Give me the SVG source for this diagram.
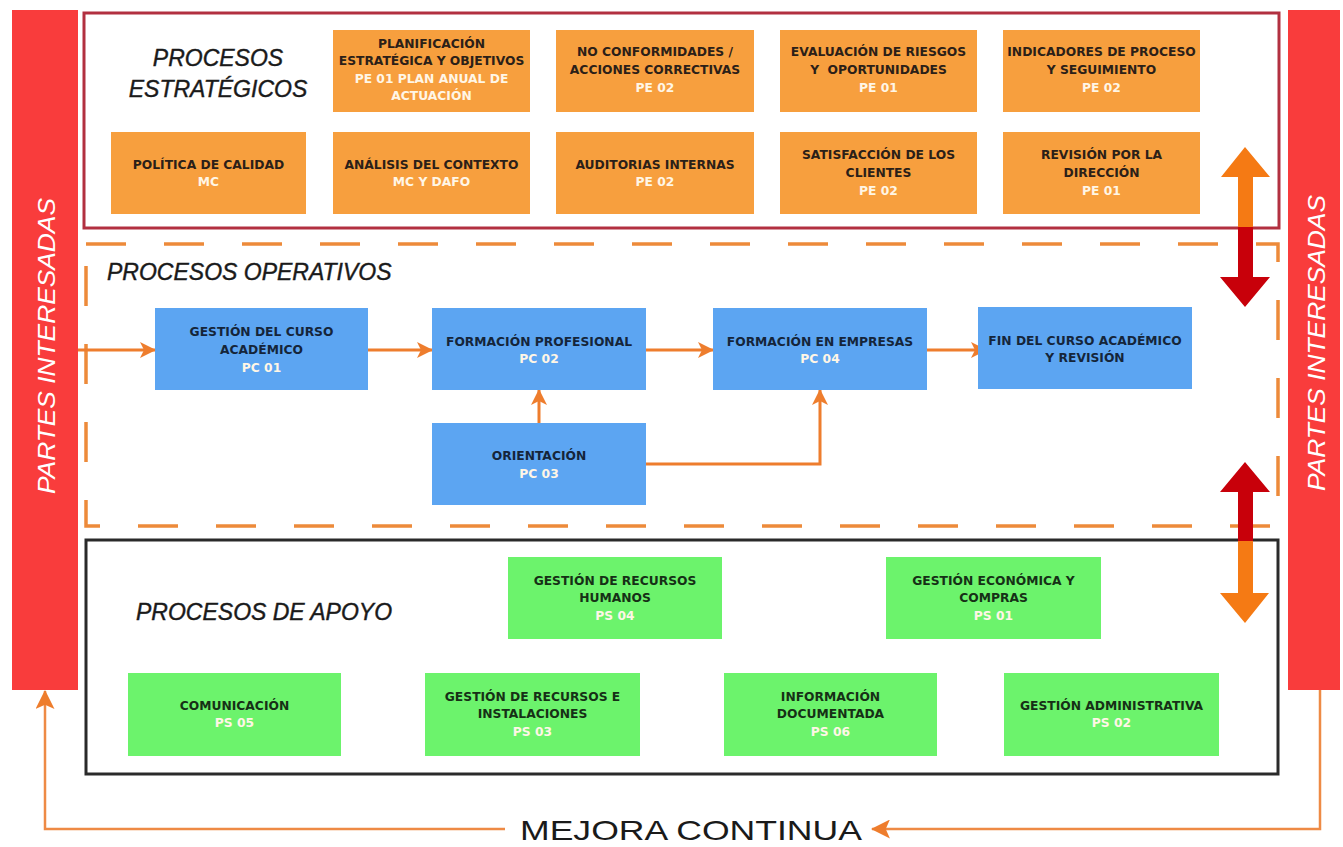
<svg xmlns="http://www.w3.org/2000/svg" width="1343" height="847" viewBox="0 0 1343 847">
<defs>
<style>
.bg{fill:#ffffff}
.bar{fill:#F93C3C}
.bartxt{font-family:"Liberation Sans",Arial,sans-serif;font-style:italic;font-size:24px;fill:#ffffff;text-anchor:middle}
.head{font-family:"Liberation Sans",Arial,sans-serif;font-style:italic;font-size:23px;fill:#1a1a1a;stroke:#1a1a1a;stroke-width:0.4}
.mejora{font-family:"Liberation Sans",Arial,sans-serif;font-size:28px;fill:#1a1a1a}
.ob{fill:#F79F3E}
.bb{fill:#5CA5F2}
.gb{fill:#6CF36C}
.t{font-family:"DejaVu Sans","Liberation Sans",sans-serif;font-weight:bold;font-size:12.3px;text-anchor:middle}
.to{fill:#2b2018}
.tb{fill:#15253a}
.tg{fill:#163016}
.tc{fill:#FFF6E6}
.conn{fill:none;stroke:#EE7D2D;stroke-width:3}
.loop{fill:none;stroke:#EE8A45;stroke-width:2.5}
</style>
<marker id="arr" viewBox="0 0 16 16" refX="15" refY="8" markerWidth="16" markerHeight="16" markerUnits="userSpaceOnUse" orient="auto">
<path d="M0,0 L16,8 L0,16 L4,8 z" fill="#EE7D2D"/>
</marker>
<marker id="arrL" viewBox="0 0 18 18" refX="17" refY="9" markerWidth="19" markerHeight="19" markerUnits="userSpaceOnUse" orient="auto">
<path d="M0,0 L18,9 L0,18 L4,9 z" fill="#EE7D2D"/>
</marker>
</defs>
<rect class="bg" x="0" y="0" width="1343" height="847"/>

<g id="partes-izq">
<rect class="bar" x="12" y="10" width="66" height="680"/>
<text class="bartxt" transform="translate(55,346) rotate(-90)" textLength="296" lengthAdjust="spacingAndGlyphs">PARTES INTERESADAS</text>
</g>
<g id="partes-der">
<rect class="bar" x="1288" y="10" width="52" height="680"/>
<text class="bartxt" transform="translate(1325,343) rotate(-90)" textLength="296" lengthAdjust="spacingAndGlyphs">PARTES INTERESADAS</text>
</g>

<g id="estrategicos">
<rect x="84" y="13" width="1195" height="215" fill="none" stroke="#B23040" stroke-width="3"/>
<text class="head" x="218" y="66" text-anchor="middle">PROCESOS</text>
<text class="head" x="218" y="97" text-anchor="middle">ESTRATÉGICOS</text>
</g>

<g id="operativos">
<rect x="86" y="244" width="1192" height="282" fill="none" stroke="#ED8A3A" stroke-width="3.5" stroke-dasharray="40 38"/>
<text class="head" x="107" y="280">PROCESOS OPERATIVOS</text>
</g>

<g id="apoyo">
<rect x="86" y="540" width="1192" height="234" fill="none" stroke="#2a2a2a" stroke-width="3"/>
<text class="head" x="136" y="620">PROCESOS DE APOYO</text>
</g>

<g id="connectors">
<path class="conn" d="M78,350 H155" marker-end="url(#arr)"/>
<path class="conn" d="M368,350 H432" marker-end="url(#arr)"/>
<path class="conn" d="M646,350 H713" marker-end="url(#arr)"/>
<path class="conn" d="M927,350 H986" marker-end="url(#arr)"/>
<path class="conn" d="M539,423 V390" marker-end="url(#arr)"/>
<path class="conn" d="M646,464 H820 V390" marker-end="url(#arr)"/>
<path class="loop" d="M505,829 H45 V691" marker-end="url(#arrL)"/>
<path class="loop" d="M1320,690 V829 H872" marker-end="url(#arrL)"/>
<polygon fill="#F57A14" points="1245,147 1270,177 1253,177 1253,227 1238,227 1238,177 1221,177"/>
<polygon fill="#C8000A" points="1238,227 1253,227 1253,277 1270,277 1245,307 1220,277 1238,277"/>
<polygon fill="#C8000A" points="1245,462 1270,492 1253,492 1253,541 1238,541 1238,492 1220,492"/>
<polygon fill="#F57A14" points="1238,541 1253,541 1253,593 1269,593 1245,623 1220,593 1238,593"/>
</g>

<g id="pe-planificacion">
<rect class="ob" x="333" y="30" width="197" height="82"/>
<text class="t to" x="431.5" y="47.5">PLANIFICACIÓN</text>
<text class="t to" x="431.5" y="65">ESTRATÉGICA Y OBJETIVOS</text>
<text class="t tc" x="431.5" y="82.5">PE 01 PLAN ANUAL DE</text>
<text class="t tc" x="431.5" y="100">ACTUACIÓN</text>
</g>
<g id="pe-noconformidades">
<rect class="ob" x="556" y="30" width="198" height="82"/>
<text class="t to" x="655" y="56">NO CONFORMIDADES /</text>
<text class="t to" x="655" y="74">ACCIONES CORRECTIVAS</text>
<text class="t tc" x="655" y="92">PE 02</text>
</g>
<g id="pe-riesgos">
<rect class="ob" x="780" y="30" width="197" height="82"/>
<text class="t to" x="878.5" y="56">EVALUACIÓN DE RIESGOS</text>
<text class="t to" x="878.5" y="74" xml:space="preserve">Y  OPORTUNIDADES</text>
<text class="t tc" x="878.5" y="92">PE 01</text>
</g>
<g id="pe-indicadores">
<rect class="ob" x="1003" y="30" width="197" height="82"/>
<text class="t to" x="1101.5" y="56">INDICADORES DE PROCESO</text>
<text class="t to" x="1101.5" y="74">Y SEGUIMIENTO</text>
<text class="t tc" x="1101.5" y="92">PE 02</text>
</g>
<g id="pe-politica">
<rect class="ob" x="111" y="132" width="195" height="82"/>
<text class="t to" x="208.5" y="168.5">POLÍTICA DE CALIDAD</text>
<text class="t tc" x="208.5" y="186">MC</text>
</g>
<g id="pe-contexto">
<rect class="ob" x="333" y="132" width="197" height="82"/>
<text class="t to" x="431.5" y="168.5">ANÁLISIS DEL CONTEXTO</text>
<text class="t tc" x="431.5" y="186">MC Y DAFO</text>
</g>
<g id="pe-auditorias">
<rect class="ob" x="556" y="132" width="198" height="82"/>
<text class="t to" x="655" y="168.5">AUDITORIAS INTERNAS</text>
<text class="t tc" x="655" y="186">PE 02</text>
</g>
<g id="pe-satisfaccion">
<rect class="ob" x="780" y="132" width="197" height="82"/>
<text class="t to" x="878.5" y="159">SATISFACCIÓN DE LOS</text>
<text class="t to" x="878.5" y="177">CLIENTES</text>
<text class="t tc" x="878.5" y="195">PE 02</text>
</g>
<g id="pe-revision">
<rect class="ob" x="1003" y="132" width="197" height="82"/>
<text class="t to" x="1101.5" y="159">REVISIÓN POR LA</text>
<text class="t to" x="1101.5" y="177">DIRECCIÓN</text>
<text class="t tc" x="1101.5" y="195">PE 01</text>
</g>

<g id="pc-gestion-curso">
<rect class="bb" x="155" y="308" width="213" height="82"/>
<text class="t tb" x="261.5" y="336">GESTIÓN DEL CURSO</text>
<text class="t tb" x="261.5" y="354">ACADÉMICO</text>
<text class="t tc" x="261.5" y="372">PC 01</text>
</g>
<g id="pc-formacion-profesional">
<rect class="bb" x="432" y="308" width="214" height="82"/>
<text class="t tb" x="539" y="345.5">FORMACIÓN PROFESIONAL</text>
<text class="t tc" x="539" y="363">PC 02</text>
</g>
<g id="pc-formacion-empresas">
<rect class="bb" x="713" y="308" width="214" height="82"/>
<text class="t tb" x="820" y="345.5">FORMACIÓN EN EMPRESAS</text>
<text class="t tc" x="820" y="363">PC 04</text>
</g>
<g id="pc-fin-curso">
<rect class="bb" x="978" y="307" width="214" height="82"/>
<text class="t tb" x="1085" y="344.5">FIN DEL CURSO ACADÉMICO</text>
<text class="t tb" x="1085" y="362">Y REVISIÓN</text>
</g>
<g id="pc-orientacion">
<rect class="bb" x="432" y="423" width="214" height="82"/>
<text class="t tb" x="539" y="460">ORIENTACIÓN</text>
<text class="t tc" x="539" y="477.5">PC 03</text>
</g>

<g id="ps-rrhh">
<rect class="gb" x="508" y="557" width="214" height="82"/>
<text class="t tg" x="615" y="584.5">GESTIÓN DE RECURSOS</text>
<text class="t tg" x="615" y="602">HUMANOS</text>
<text class="t tc" x="615" y="619.5">PS 04</text>
</g>
<g id="ps-economica">
<rect class="gb" x="886" y="557" width="215" height="82"/>
<text class="t tg" x="993.5" y="584.5">GESTIÓN ECONÓMICA Y</text>
<text class="t tg" x="993.5" y="602">COMPRAS</text>
<text class="t tc" x="993.5" y="619.5">PS 01</text>
</g>
<g id="ps-comunicacion">
<rect class="gb" x="128" y="673" width="213" height="83"/>
<text class="t tg" x="234.5" y="709.5">COMUNICACIÓN</text>
<text class="t tc" x="234.5" y="727">PS 05</text>
</g>
<g id="ps-instalaciones">
<rect class="gb" x="425" y="673" width="215" height="83"/>
<text class="t tg" x="532.5" y="700.5">GESTIÓN DE RECURSOS E</text>
<text class="t tg" x="532.5" y="718">INSTALACIONES</text>
<text class="t tc" x="532.5" y="735.5">PS 03</text>
</g>
<g id="ps-informacion">
<rect class="gb" x="724" y="673" width="213" height="83"/>
<text class="t tg" x="830.5" y="700.5">INFORMACIÓN</text>
<text class="t tg" x="830.5" y="718">DOCUMENTADA</text>
<text class="t tc" x="830.5" y="735.5">PS 06</text>
</g>
<g id="ps-administrativa">
<rect class="gb" x="1004" y="673" width="215" height="83"/>
<text class="t tg" x="1111.5" y="709.5">GESTIÓN ADMINISTRATIVA</text>
<text class="t tc" x="1111.5" y="727">PS 02</text>
</g>

<g id="mejora-continua">
<text class="mejora" x="520" y="840" textLength="342" lengthAdjust="spacingAndGlyphs">MEJORA CONTINUA</text>
</g>
</svg>
